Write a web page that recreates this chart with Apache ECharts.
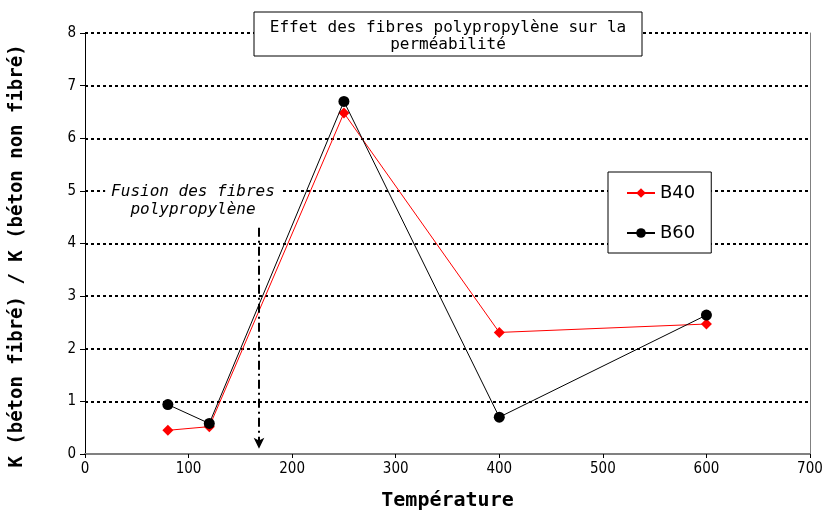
<!DOCTYPE html>
<html><head><meta charset="utf-8">
<script src="https://cdn.jsdelivr.net/npm/echarts@6/dist/echarts.min.js"></script>
<style>html,body{margin:0;padding:0;background:#fff}#c{width:826px;height:510px}</style>
</head><body><div id="c"></div>
<script>
const temperatures = [80, 120, 250, 400, 600];
const b40 = [0.45, 0.52, 6.48, 2.31, 2.47];
const b60 = [0.94, 0.58, 6.70, 0.70, 2.64];
const seriesNames = ['B40', 'B60'];
const titleText = 'Effet des fibres polypropylène sur la\nperméabilité';
const annotationText = 'Fusion des fibres\npolypropylène';
const fusionTemp = 168;
const arrowTop = 4.3;
const xTitle = 'Température';
const yTitle = 'K (béton fibré) / K (béton non fibré)';

const mono = '"DejaVu Sans Mono", "Liberation Mono", monospace';
const narrow = '"Liberation Sans Narrow", "DejaVu Sans Condensed", sans-serif';

const chart = echarts.init(document.getElementById('c'));
const pair = (xs, ys) => xs.map((x, i) => [x, ys[i]]);

chart.setOption({
  animation: false,
  backgroundColor: '#fff',
  grid: { left: 85, right: 16, top: 33, bottom: 56, containLabel: false, outerBoundsMode: 'none' },
  xAxis: {
    type: 'value', min: 0, max: 700, interval: 100,
    name: xTitle, nameLocation: 'middle', nameGap: 37,
    nameTextStyle: { fontFamily: mono, fontWeight: 'bold', fontSize: 20, color: '#000' },
    axisLine: { show: true, lineStyle: { color: '#808080', width: 2 } },
    axisTick: { show: true, length: 4, lineStyle: { color: '#000' } },
    axisLabel: { fontFamily: narrow, fontSize: 15, color: '#000', margin: 8 },
    splitLine: { show: false }
  },
  yAxis: [{
    type: 'value', min: 0, max: 8, interval: 1,
    axisLine: { show: true, lineStyle: { color: '#000', width: 1 } },
    axisTick: { show: true, length: 5, lineStyle: { color: '#000' } },
    axisLabel: { fontFamily: narrow, fontSize: 15, color: '#000', margin: 9 },
    splitLine: { show: true, lineStyle: { color: '#000', width: 2, type: [3, 3] } }
  }, {
    type: 'value', min: 0, max: 8, interval: 1, position: 'right',
    axisLine: { show: true, lineStyle: { color: '#808080', width: 1 } },
    axisTick: { show: false }, axisLabel: { show: false }, splitLine: { show: false }
  }],
  legend: {
    orient: 'vertical', left: 608, top: 172,
    padding: [12, 16, 11, 18], itemGap: 22, itemWidth: 28, itemHeight: 12,
    backgroundColor: '#fff', borderColor: '#000', borderWidth: 1,
    textStyle: { fontFamily: '"DejaVu Sans", sans-serif', fontSize: 18, color: '#000' },
    data: seriesNames
  },
  series: [{
    name: seriesNames[0], type: 'line', data: pair(temperatures, b40),
    symbol: 'diamond', symbolSize: 11,
    itemStyle: { color: '#ff0000' }, lineStyle: { color: '#ff0000', width: 1 },
    z: 3,
    markLine: {
      silent: true, symbol: ['none', 'arrow'], symbolSize: [8, 11],
      label: { show: false },
      lineStyle: { color: '#000', width: 2, type: [9, 4, 2, 4] },
      data: [[{ coord: [fusionTemp, arrowTop] }, { coord: [fusionTemp, 0.1] }]]
    }
  }, {
    name: seriesNames[1], type: 'line', data: pair(temperatures, b60),
    symbol: 'circle', symbolSize: 11,
    itemStyle: { color: '#000' }, lineStyle: { color: '#000', width: 1 },
    z: 4
  }]
});

chart.setOption({
  graphic: [
    { type: 'rect', shape: { x: 254, y: 12, width: 388, height: 44 },
      style: { fill: '#fff', stroke: '#000', lineWidth: 1 }, z: 10 },
    { type: 'text', x: 448, y: 36,
      style: { text: titleText, font: '16px ' + mono, fill: '#000', align: 'center', verticalAlign: 'middle', lineHeight: 17 }, z: 11 },
    { type: 'text', x: 193, y: 201,
      style: { text: annotationText, font: 'italic 16px ' + mono, fill: '#000', align: 'center', verticalAlign: 'middle', lineHeight: 18,
        backgroundColor: '#fff', padding: [0, 6, 0, 6] }, z: 10 },
    { type: 'text', x: 17, y: 256, rotation: Math.PI / 2,
      style: { text: yTitle, font: 'bold 19px ' + mono, fill: '#000', align: 'center', verticalAlign: 'middle' }, z: 10 }
  ]
});
</script></body></html>
